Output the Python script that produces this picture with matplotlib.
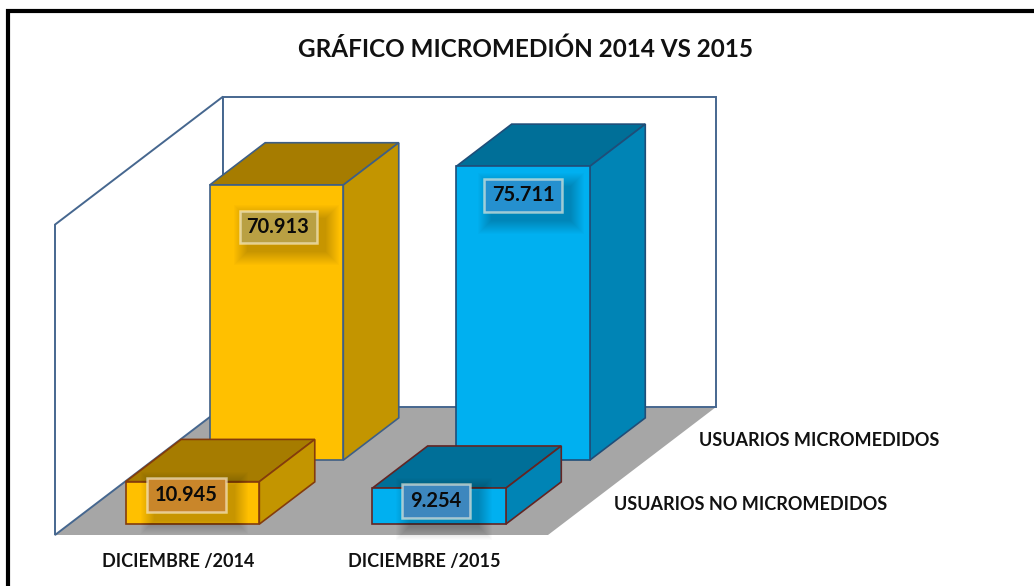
import matplotlib
matplotlib.use('Agg')
import matplotlib.pyplot as plt
from matplotlib.patches import Polygon, Rectangle

plt.rcParams['font.family'] = ['Lato', 'DejaVu Sans']

title = 'GRÁFICO MICROMEDIÓN 2014 VS 2015'
categories = ['DICIEMBRE /2014', 'DICIEMBRE /2015']
series_names = ['USUARIOS NO MICROMEDIDOS', 'USUARIOS MICROMEDIDOS']
no_micromedidos = [10.945, 9.254]
micromedidos = [70.913, 75.711]
value_labels = [['10.945', '9.254'], ['70.913', '75.711']]

# one colour set per category: front, side, top
front_colors = ['#FFC000', '#00B0F0']
side_colors = ['#C39500', '#0084B5']
top_colors = ['#A67C00', '#006F98']
edge_colors = [['#843C0C', '#632523'], ['#3E5F85', '#1F4E79']]

# oblique projection of the 3d chart onto the image, in pixels
x0, y0 = 55, 535
cat_step = 246.5
depth_x, depth_y = 84, -64
px_per_unit = 3.88
y_top = 80
bar_left = 0.229
bar_width = 0.542
bar_depth = 0.66


def project(cat, depth, value):
    return (x0 + cat * cat_step + depth * depth_x,
            y0 + depth * depth_y - value * px_per_unit)


fig = plt.figure(figsize=(10.34, 5.86), dpi=100)
ax = fig.add_axes([0, 0, 1, 1])
ax.set_xlim(0, 1034)
ax.set_ylim(586, 0)
ax.axis('off')

# outer frame
ax.plot([8, 8, 1034], [586, 11, 11], color='black', lw=3.0, solid_joinstyle='miter')

wall = '#46678F'
corners = [project(0, 0, 0), project(0, 2, 0), project(2, 2, 0), project(2, 0, 0)]
ax.add_patch(Polygon(corners, closed=True, fc='#A6A6A6', ec='none', zorder=1))
ax.add_patch(Polygon([project(0, 0, 0), project(0, 2, 0), project(0, 2, y_top), project(0, 0, y_top)],
                     closed=True, fc='white', ec=wall, lw=1.4, zorder=2))
ax.add_patch(Polygon([project(0, 2, 0), project(0, 2, y_top), project(2, 2, y_top), project(2, 2, 0)],
                     closed=True, fc='white', ec=wall, lw=1.4, zorder=2))

series = [no_micromedidos, micromedidos]
depth_starts = [0.17, 1.17]
z = 3
for s in [1, 0]:
    for c, value in enumerate(series[s]):
        a = c + bar_left
        b = a + bar_width
        d1 = depth_starts[s]
        d2 = d1 + bar_depth
        ec = edge_colors[s][c]
        ax.add_patch(Polygon([project(a, d1, value), project(b, d1, value), project(b, d2, value), project(a, d2, value)],
                             closed=True, fc=top_colors[c], ec=ec, lw=1.2, zorder=z))
        ax.add_patch(Polygon([project(b, d1, 0), project(b, d2, 0), project(b, d2, value), project(b, d1, value)],
                             closed=True, fc=side_colors[c], ec=ec, lw=1.2, zorder=z))
        ax.add_patch(Polygon([project(a, d1, 0), project(b, d1, 0), project(b, d1, value), project(a, d1, value)],
                             closed=True, fc=front_colors[c], ec=ec, lw=1.2, zorder=z))
    z += 1

# value label boxes: centre x, centre y, width, height
label_boxes = [[(186, 495, 79, 34), (436, 501, 68, 34)],
               [(278, 227, 77, 32), (523, 195, 78, 33)]]
box_colors = [['#C9862A', '#3D87BE'], ['#B9A043', '#2590CF']]
for s in range(2):
    for c in range(2):
        cx, cy, w, h = label_boxes[s][c]
        # soft shadow below the box
        for grow in range(14, 0, -1):
            ax.add_patch(Rectangle((cx - w / 2 + 8 - grow, cy - h / 2 + 8 - grow), w + 2 * grow, h + 2 * grow,
                                   fc='black', ec='none', alpha=0.016, zorder=6))
        ax.add_patch(Rectangle((cx - w / 2, cy - h / 2), w, h, fc=box_colors[s][c], ec=(1, 0.97, 0.88, 0.6),
                               lw=1.8, zorder=7))
        ax.text(cx, cy, value_labels[s][c], ha='center', va='center', fontsize=14.5,
                fontweight='bold', color='#0A0A0A', zorder=8)

ax.text(525, 49, title, ha='center', va='center', fontsize=17.5, fontweight='bold', color='#111111')
for c, name in enumerate(categories):
    ax.text([178, 424][c], 561, name, ha='center', va='center', fontsize=13, fontweight='bold', color='#111111')
ax.text(614, 504, series_names[0], ha='left', va='center', fontsize=13, fontweight='bold', color='#111111')
ax.text(699, 441, series_names[1], ha='left', va='center', fontsize=13, fontweight='bold', color='#111111')

fig.savefig('out.png', dpi=100, facecolor='white')
